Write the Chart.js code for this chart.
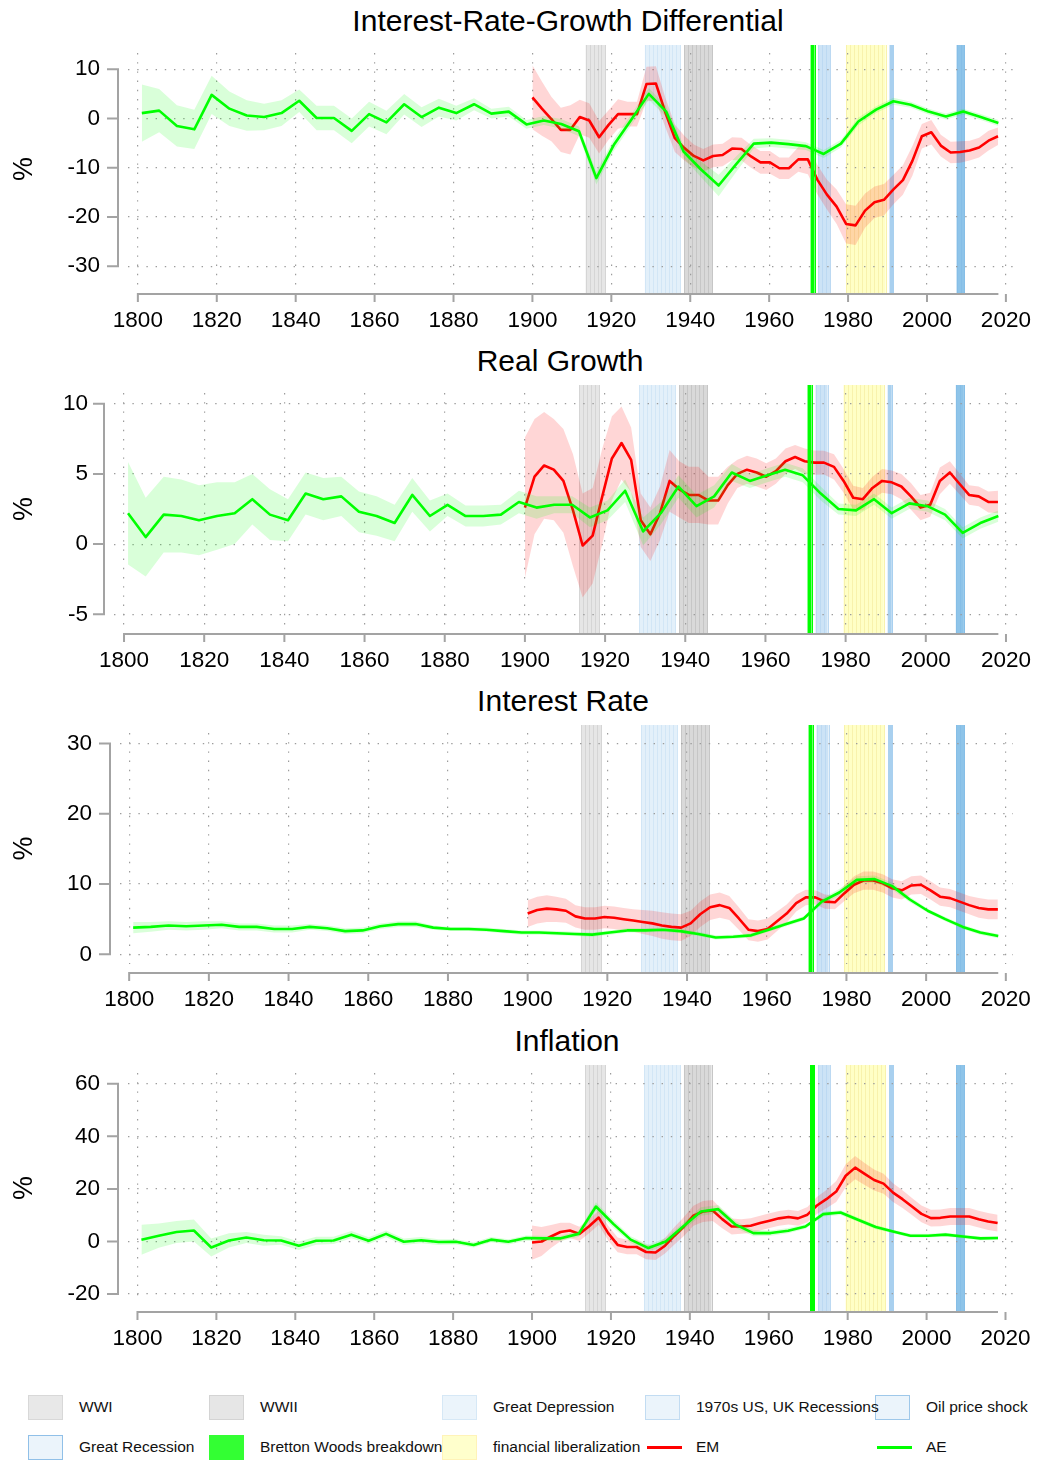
<!DOCTYPE html>
<html>
<head>
<meta charset="utf-8">
<script src="https://cdn.jsdelivr.net/npm/chart.js@4.4.1/dist/chart.umd.min.js"></script>
<style>
  body { margin: 0; background: #fff; font-family: "Liberation Sans", Arial, sans-serif; }
  #page { position: relative; width: 1037px; height: 1460px; overflow: hidden; }
  canvas { position: absolute; left: 0; }
  .title { position: absolute; width: 600px; text-align: center; font-size: 30px; line-height: 30px; color: #000; white-space: nowrap; }
  .leg { position: absolute; z-index: 2; font-size: 15.5px; line-height: 20px; color: #111; white-space: nowrap; }
  .sw { position: absolute; z-index: 1; width: 35px; height: 25px; box-sizing: border-box; border: 1px solid; }
  .ln { position: absolute; z-index: 1; width: 35px; height: 3px; }
</style>
</head>
<body>
<div id="page">
  <div class="title" style="left:268px;top:6px">Interest-Rate-Growth Differential</div>
  <div class="title" style="left:260px;top:346px">Real Growth</div>
  <div class="title" style="left:263px;top:686px">Interest Rate</div>
  <div class="title" style="left:267px;top:1026px">Inflation</div>
  <canvas id="c1" width="1037" height="340" style="top:0px"></canvas>
  <canvas id="c2" width="1037" height="340" style="top:340px"></canvas>
  <canvas id="c3" width="1037" height="340" style="top:680px"></canvas>
  <canvas id="c4" width="1037" height="350" style="top:1020px"></canvas>
  <div id="legend"></div>
</div>
<script>
// x positions of the two samples
const aeYears = [1801.0, 1805.4, 1809.9, 1814.3, 1818.7, 1823.2, 1827.6, 1832.0, 1836.4, 1840.9,
  1845.3, 1849.7, 1854.2, 1858.6, 1863.0, 1867.5, 1871.9, 1876.3, 1880.7, 1885.2,
  1889.6, 1894.0, 1898.5, 1902.9, 1907.3, 1911.8, 1916.2, 1920.6, 1925.0, 1929.5,
  1933.9, 1938.3, 1942.8, 1947.2, 1951.6, 1956.1, 1960.5, 1964.9, 1969.3, 1973.8,
  1978.2, 1982.6, 1987.1, 1991.5, 1995.9, 2000.4, 2004.8, 2009.2, 2013.6, 2018.1];
const emYears = [1900.0, 1902.4, 1904.8, 1907.2, 1909.6, 1912.0, 1914.4, 1916.9, 1919.3, 1921.7,
  1924.1, 1926.5, 1928.9, 1931.3, 1933.7, 1936.1, 1938.5, 1940.9, 1943.3, 1945.8,
  1948.2, 1950.6, 1953.0, 1955.4, 1957.8, 1960.2, 1962.6, 1965.0, 1967.4, 1969.8,
  1972.2, 1974.6, 1977.1, 1979.5, 1981.9, 1984.3, 1986.7, 1989.1, 1991.5, 1993.9,
  1996.3, 1998.7, 2001.1, 2003.5, 2006.0, 2008.4, 2010.8, 2013.2, 2015.6, 2018.0];

// interest-rate-growth differential
const diffAE = [1.1, 1.6, -1.5, -2.2, 4.8, 2.0, 0.6, 0.3, 1.1, 3.6, 0.1, 0.1, -2.5, 0.9, -0.8, 2.9, 0.3, 2.2, 1.1, 2.9,
  1.0, 1.4, -1.2, -0.4, -1.1, -2.6, -12.1, -5.4, -0.3, 5.0, 1.4, -6.7, -10.4, -13.6, -9.3, -5.1, -4.9, -5.2, -5.6, -7.2,
  -5.1, -0.6, 1.8, 3.5, 2.8, 1.4, 0.4, 1.4, 0.3, -0.9];
const diffAEci = [5.8, 4.4, 4.2, 4.0, 3.9, 3.5, 3.1, 2.7, 2.6, 2.3, 2.5, 2.5, 2.5, 2.5, 2.4, 2.1, 2.0, 1.8, 1.5, 1.2,
  1.0, 1.0, 0.9, 0.9, 1.0, 1.0, 1.3, 1.2, 1.1, 1.2, 1.1, 1.3, 1.6, 2.2, 1.6, 1.0, 0.9, 0.9, 0.8, 0.8,
  0.8, 0.8, 0.7, 0.7, 0.6, 0.6, 0.6, 0.6, 0.6, 0.6];
const diffEM = [4.3, 2.0, -0.1, -2.3, -2.3, 0.3, -0.4, -3.8, -1.3, 0.9, 0.9, 0.9, 7.0, 7.1, 1.2, -4.0, -6.0, -7.6, -8.5, -7.6,
  -7.4, -6.1, -6.2, -7.7, -8.9, -8.9, -10.1, -10.1, -8.3, -8.3, -12.4, -15.4, -17.9, -21.4, -21.7, -18.7, -17.0, -16.5, -14.4, -12.5,
  -8.6, -3.6, -2.8, -5.5, -6.9, -6.8, -6.5, -5.9, -4.5, -3.6];
const diffEMci = [6.5, 5.5, 4.5, 4.5, 5.0, 3.5, 3.5, 3.3, 3.0, 3.0, 2.5, 2.5, 3.5, 3.5, 3.0, 2.8, 2.5, 2.3, 2.3, 2.3,
  2.3, 2.3, 2.3, 2.3, 2.3, 2.3, 2.2, 2.2, 2.5, 3.0, 3.0, 3.0, 3.5, 4.0, 4.0, 3.5, 3.2, 3.2, 3.0, 3.0,
  3.0, 2.5, 2.5, 2.2, 2.2, 2.2, 2.0, 2.0, 2.0, 1.8];

// real growth
const growthAE = [2.2, 0.5, 2.1, 2.0, 1.7, 2.0, 2.2, 3.2, 2.1, 1.7, 3.6, 3.2, 3.4, 2.3, 2.0, 1.5, 3.5, 2.0, 2.8, 2.0,
  2.0, 2.1, 3.0, 2.6, 2.8, 2.8, 1.9, 2.4, 3.8, 0.9, 2.2, 4.1, 2.7, 3.4, 5.1, 4.5, 4.9, 5.3, 4.9, 3.6,
  2.5, 2.4, 3.2, 2.2, 2.9, 2.7, 2.1, 0.8, 1.5, 2.0];
const growthAEci = [3.65, 2.8, 2.7, 2.6, 2.5, 2.4, 2.2, 1.8, 1.8, 1.5, 1.5, 1.5, 1.4, 1.45, 1.4, 1.3, 1.2, 1.1, 0.8, 0.75,
  0.75, 0.7, 0.8, 0.8, 0.6, 0.6, 0.7, 0.7, 0.8, 1.0, 0.8, 0.8, 0.8, 0.8, 0.6, 0.5, 0.5, 0.5, 0.5, 0.5,
  0.4, 0.4, 0.4, 0.4, 0.4, 0.4, 0.4, 0.4, 0.4, 0.4];
const growthEM = [2.6, 4.8, 5.6, 5.3, 4.5, 2.4, -0.1, 0.6, 3.4, 6.1, 7.2, 6.0, 1.7, 0.7, 2.2, 4.5, 3.9, 3.5, 3.5, 3.1,
  3.1, 4.2, 5.0, 5.3, 5.1, 4.8, 5.2, 5.9, 6.2, 5.9, 5.8, 5.8, 5.5, 4.5, 3.3, 3.2, 4.0, 4.5, 4.4, 4.1,
  3.4, 2.6, 2.8, 4.5, 5.1, 4.3, 3.5, 3.4, 3.0, 3.0];
const growthEMci = [5.0, 4.1, 3.8, 3.6, 3.7, 4.0, 3.7, 3.4, 3.4, 3.0, 2.6, 2.3, 1.9, 1.9, 1.9, 2.2, 2.0, 2.0, 2.0, 1.7,
  1.7, 1.3, 1.0, 1.0, 1.0, 0.95, 0.9, 0.9, 0.85, 0.9, 0.87, 0.85, 0.9, 0.85, 0.85, 0.8, 0.8, 0.85, 0.85, 0.9,
  0.95, 0.9, 0.85, 0.95, 0.8, 0.75, 0.7, 0.7, 0.75, 0.8];

// interest rate
const rateAE = [3.8, 3.9, 4.1, 4.0, 4.1, 4.2, 3.9, 3.9, 3.6, 3.6, 3.9, 3.7, 3.3, 3.4, 4.0, 4.3, 4.3, 3.8, 3.6, 3.6,
  3.5, 3.3, 3.1, 3.1, 3.0, 2.9, 2.8, 3.1, 3.4, 3.4, 3.5, 3.3, 2.9, 2.4, 2.5, 2.7, 3.5, 4.3, 5.1, 7.5,
  8.8, 10.6, 10.7, 9.7, 7.8, 6.2, 5.0, 3.9, 3.1, 2.6];
const rateAEci = [0.8, 0.7, 0.6, 0.6, 0.6, 0.5, 0.5, 0.5, 0.5, 0.5, 0.4, 0.4, 0.4, 0.4, 0.4, 0.4, 0.4, 0.3, 0.3, 0.3,
  0.3, 0.3, 0.3, 0.3, 0.3, 0.3, 0.3, 0.3, 0.3, 0.3, 0.3, 0.3, 0.3, 0.3, 0.3, 0.3, 0.3, 0.3, 0.3, 0.4,
  0.5, 0.5, 0.5, 0.5, 0.4, 0.3, 0.3, 0.3, 0.3, 0.3];
const rateEM = [5.8, 6.3, 6.5, 6.4, 6.2, 5.4, 5.1, 5.1, 5.3, 5.2, 5.0, 4.8, 4.6, 4.4, 4.1, 3.9, 3.8, 4.4, 5.7, 6.7,
  7.0, 6.6, 5.1, 3.5, 3.3, 3.6, 4.7, 5.8, 7.3, 8.1, 8.1, 7.5, 7.4, 8.7, 9.9, 10.5, 10.5, 10.1, 9.4, 9.1,
  9.8, 9.9, 9.1, 8.2, 8.0, 7.5, 7.0, 6.6, 6.4, 6.4];
const rateEMci = [1.9, 1.9, 1.9, 1.8, 1.7, 1.6, 1.6, 1.6, 1.6, 1.6, 1.6, 1.6, 1.7, 1.8, 1.9, 1.9, 1.9, 1.8, 1.8, 1.8,
  1.8, 1.7, 1.6, 1.5, 1.5, 1.5, 1.4, 1.3, 1.2, 1.1, 1.0, 1.0, 1.0, 1.1, 1.2, 1.3, 1.3, 1.3, 1.3, 1.3,
  1.3, 1.3, 1.3, 1.3, 1.3, 1.3, 1.3, 1.4, 1.4, 1.4];

// inflation
const inflAE = [0.7, 2.2, 3.6, 4.2, -2.3, 0.4, 1.5, 0.5, 0.4, -1.6, 0.3, 0.4, 2.6, 0.3, 2.9, -0.1, 0.5, -0.2, -0.1, -1.3,
  0.7, -0.1, 1.3, 1.2, 1.2, 2.9, 13.3, 6.7, 0.7, -2.5, 0.0, 5.7, 11.4, 12.3, 6.4, 3.2, 3.2, 4.1, 5.7, 10.4,
  11.0, 8.3, 5.5, 3.8, 2.2, 2.2, 2.6, 1.9, 1.2, 1.3];
const inflAEci = [5.7, 4.6, 4.2, 4.2, 3.4, 2.7, 2.1, 2.1, 1.6, 1.6, 1.5, 1.4, 1.4, 1.3, 1.3, 1.2, 1.2, 1.1, 1.0, 1.0,
  1.0, 1.0, 1.0, 1.0, 1.0, 1.2, 1.6, 1.5, 1.3, 1.3, 1.3, 1.4, 1.6, 1.6, 1.3, 1.2, 1.0, 1.0, 0.9, 0.9,
  0.9, 0.8, 0.8, 0.7, 0.7, 0.7, 0.7, 0.7, 0.7, 0.7];
const inflEM = [-0.4, 0.0, 1.9, 3.6, 4.2, 2.9, 5.7, 9.1, 3.2, -1.3, -2.1, -2.1, -4.0, -4.2, -1.6, 2.2, 5.7, 9.8, 11.4, 11.8,
  8.5, 5.7, 5.7, 6.0, 7.0, 7.9, 8.8, 9.3, 8.8, 10.2, 13.7, 16.1, 19.0, 25.0, 28.1, 25.7, 23.4, 22.0, 18.6, 16.1,
  13.3, 10.5, 8.9, 9.0, 9.5, 9.5, 9.5, 8.5, 7.6, 7.0];
const inflEMci = [6.5, 5.5, 4.4, 3.5, 2.9, 2.7, 2.7, 2.7, 2.8, 2.8, 2.8, 2.8, 2.8, 2.8, 3.0, 3.3, 3.6, 3.8, 4.0, 4.0,
  3.5, 3.0, 2.8, 2.8, 2.8, 2.8, 2.8, 2.8, 2.8, 2.9, 3.2, 3.5, 4.0, 4.4, 4.4, 4.2, 4.0, 3.8, 3.6, 3.4,
  3.2, 3.2, 3.2, 3.2, 3.2, 3.2, 3.2, 3.2, 3.2, 3.2];

// shaded episodes
const periodNames = ["WWI", "WWII", "Great Depression", "1970s US, UK Recessions", "Oil price shock",
  "Great Recession", "Bretton Woods breakdown", "financial liberalization"];
const periodStart = [1914, 1939, 1929, 1973, 1991, 2008, 1971, 1980];
const periodEnd = [1918, 1945, 1937, 1975, 1991, 2009, 1971, 1989];

const periodFill = ["#e6e6e6", "#d9d9d9", "#e3f0fa", "#cce3f6", "#a9d0ef", "#8ec4e9", "#00ff00", "#ffffc6"];
const periodStripe = ["#d5d5d5", "#c6c6c6", "#d2e6f6", "#bcd9f2", "#a9d0ef", "#86bee7", "#00ff00", "#f8f2ac"];
const periodOnTop = [false, false, false, false, false, false, true, false];

Chart.defaults.font.family = '"Liberation Sans", Arial, sans-serif';
Chart.defaults.color = "#000";

function drawPeriod(ctx, x, a, k, o) {
  const top = a.top - o.bandTop;
  const bot = a.bottom + o.axisDrop;
  const x0 = x.getPixelForValue(periodStart[k] - 0.5);
  const x1 = x.getPixelForValue(periodEnd[k] + 0.5);
  ctx.fillStyle = periodFill[k];
  ctx.fillRect(x0, top, x1 - x0, bot - top);
  ctx.strokeStyle = periodStripe[k];
  ctx.lineWidth = 1;
  ctx.beginPath();
  for (let yr = periodStart[k]; yr <= periodEnd[k] + 1; yr++) {
    const p = Math.round(x.getPixelForValue(yr - 0.5)) + 0.5;
    ctx.moveTo(p, top);
    ctx.lineTo(p, bot);
  }
  ctx.stroke();
}

// stata-like shading and detached axes
const stataFrame = {
  id: "stataFrame",
  beforeDraw(chart, args, o) {
    const { ctx, chartArea: a, scales: { x } } = chart;
    ctx.save();
    periodStart.forEach((s, k) => { if (!periodOnTop[k]) drawPeriod(ctx, x, a, k, o); });
    ctx.restore();
  },
  afterDatasetsDraw(chart, args, o) {
    const { ctx, chartArea: a, scales: { x } } = chart;
    ctx.save();
    periodStart.forEach((s, k) => { if (periodOnTop[k]) drawPeriod(ctx, x, a, k, o); });
    ctx.restore();
  },
  afterDraw(chart, args, o) {
    const { ctx, chartArea: a, scales: { x, y } } = chart;
    const ax = a.left - o.axisGap;
    const ay = a.bottom + o.axisDrop;
    const yt = y.ticks.map((t) => y.getPixelForValue(t.value));
    const xt = x.ticks.map((t) => x.getPixelForValue(t.value));
    ctx.save();
    ctx.strokeStyle = "#a3a3a3";
    ctx.lineWidth = 2;
    ctx.beginPath();
    ctx.moveTo(ax, Math.min(...yt) - 1);
    ctx.lineTo(ax, Math.max(...yt) + 1);
    yt.forEach((p) => { ctx.moveTo(ax - 11, p); ctx.lineTo(ax, p); });
    ctx.moveTo(xt[0] - 1, ay);
    ctx.lineTo(x.getPixelForValue(aeYears[aeYears.length - 1]), ay);
    xt.forEach((p) => { ctx.moveTo(p, ay); ctx.lineTo(p, ay + 8); });
    ctx.stroke();
    ctx.restore();
  },
};

const pts = (xs, ys) => xs.map((v, i) => ({ x: v, y: ys[i] }));
const shift = (ys, ci, sign) => ys.map((v, i) => v + sign * ci[i]);

function panel(id, p) {
  const canvas = document.getElementById(id);
  const tickFont = { size: 22.5 };
  const grid = { color: "#9c9c9c", lineWidth: 1.2, drawTicks: false };
  const border = { display: false, dash: [1.4, 7.8] };
  new Chart(canvas, {
    type: "line",
    data: {
      datasets: [
        { label: "AE", data: pts(aeYears, p.ae), borderColor: "#00ff00", borderWidth: 2.6, order: 0 },
        { label: "AE hi", data: pts(aeYears, shift(p.ae, p.aeCi, 1)), borderWidth: 0, fill: "+1",
          backgroundColor: "rgba(0,255,0,0.15)", order: 1 },
        { label: "AE lo", data: pts(aeYears, shift(p.ae, p.aeCi, -1)), borderWidth: 0, order: 1 },
        { label: "EM", data: pts(emYears, p.em), borderColor: "#ff0000", borderWidth: 2.6, order: 2 },
        { label: "EM hi", data: pts(emYears, shift(p.em, p.emCi, 1)), borderWidth: 0, fill: "+1",
          backgroundColor: "rgba(255,0,0,0.16)", order: 3 },
        { label: "EM lo", data: pts(emYears, shift(p.em, p.emCi, -1)), borderWidth: 0, order: 3 },
      ],
    },
    options: {
      responsive: false,
      animation: false,
      devicePixelRatio: 1,
      events: [],
      elements: { point: { radius: 0 }, line: { tension: 0, borderJoinStyle: "round", fill: false } },
      layout: { padding: { left: 0, right: 1037 - p.right, top: p.top, bottom: canvas.height - p.bottom - 45 } },
      plugins: {
        legend: { display: false },
        tooltip: { enabled: false },
        stataFrame: { axisGap: 10, axisDrop: 9, bandTop: 8 },
      },
      scales: {
        x: {
          type: "linear",
          min: p.xMin,
          max: p.xMax,
          afterFit: (s) => { s.height = 45; s.paddingLeft = 0; s.paddingRight = 0; },
          grid: grid,
          border: border,
          ticks: { stepSize: 20, includeBounds: false, autoSkip: false, maxRotation: 0, padding: 22,
            font: tickFont, color: "#000", callback: (v) => String(v) },
        },
        y: {
          min: p.yMin,
          max: p.yMax,
          afterFit: (s) => { s.width = p.left; s.paddingTop = 0; s.paddingBottom = 0; },
          grid: grid,
          border: border,
          ticks: { stepSize: p.step, includeBounds: false, padding: p.yPad, font: tickFont, color: "#000" },
          title: { display: true, text: "%", font: { size: 27 }, color: "#000", padding: { top: 8, bottom: 0 } },
        },
      },
    },
    plugins: [stataFrame],
  });
}

panel("c1", { ae: diffAE, aeCi: diffAEci, em: diffEM, emCi: diffEMci,
  left: 128, right: 1013, top: 53, bottom: 285, xMin: 1797.5, xMax: 2021.8,
  yMin: -33.8, yMax: 13.3, step: 10, yPad: 28 });
panel("c2", { ae: growthAE, aeCi: growthAEci, em: growthEM, emCi: growthEMci,
  left: 114, right: 1018, top: 53, bottom: 285, xMin: 1797.5, xMax: 2023,
  yMin: -5.76, yMax: 10.76, step: 5, yPad: 26 });
panel("c3", { ae: rateAE, aeCi: rateAEci, em: rateEM, emCi: rateEMci,
  left: 120, right: 1013, top: 53, bottom: 284, xMin: 1797.7, xMax: 2021.8,
  yMin: -1.38, yMax: 31.5, step: 10, yPad: 28 });
panel("c4", { ae: inflAE, aeCi: inflAEci, em: inflEM, emCi: inflEMci,
  left: 128, right: 1013, top: 53, bottom: 283, xMin: 1797.6, xMax: 2021.9,
  yMin: -23.4, yMax: 64.1, step: 20, yPad: 28 });

// legend
const legendOrder = [0, 1, 2, 3, 4, 5, 6, 7, "EM", "AE"];
const legendBorder = ["#d8d8d8", "#d4d4d4", "#d6e8f6", "#c2dcf2", "#9ec8ea", "#90c0e8", "#33ff33", "#fff3b8"];
const legendSwatch = ["#e8e8e8", "#e6e6e6", "#ebf4fb", "#ebf4fb", "#ebf4fb", "#ebf4fb", "#33ff33", "#ffffcc"];
const legendCols = [28, 209, 442, 645, 875];
const legendRows = [1395, 1435];
const seriesColor = { EM: "#ff0000", AE: "#00ff00" };
const leg = document.getElementById("legend");
legendOrder.forEach((key, n) => {
  const cx = legendCols[n % 5];
  const cy = legendRows[Math.floor(n / 5)];
  const label = typeof key === "number" ? periodNames[key] : key;
  let mark;
  if (typeof key === "number") {
    mark = `<div class="sw" style="left:${cx}px;top:${cy}px;background:${legendSwatch[key]};border-color:${legendBorder[key]}"></div>`;
  } else {
    mark = `<div class="ln" style="left:${cx + 2}px;top:${cy + 11}px;background:${seriesColor[key]}"></div>`;
  }
  leg.insertAdjacentHTML("beforeend", mark +
    `<div class="leg" style="left:${cx + 51}px;top:${cy + 2}px">${label}</div>`);
});
</script>
</body>
</html>
